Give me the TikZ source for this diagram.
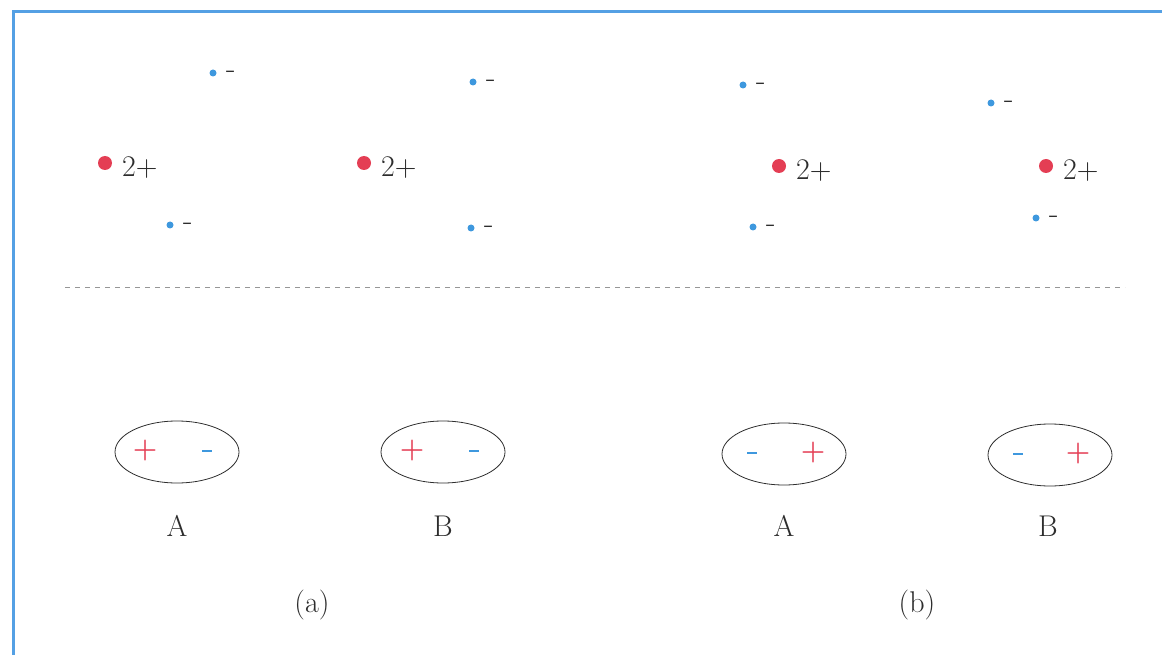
\documentclass[tikz,border=0pt]{standalone}
\usetikzlibrary{shapes.geometric}
\definecolor{ionred}{RGB}{228,62,84}
\definecolor{ionblue}{RGB}{62,152,222}
\definecolor{frameblue}{RGB}{84,160,228}
\definecolor{inkgray}{RGB}{45,45,45}
\definecolor{dashgray}{RGB}{150,150,150}
\tikzset{
  bigion/.style={circle,fill=ionred,inner sep=0pt,minimum size=14pt},
  smallion/.style={circle,fill=ionblue,inner sep=0pt,minimum size=7pt},
  chg/.style={anchor=west,inner sep=0pt,text=inkgray,font=\fontsize{30}{32}\selectfont},
  minus/.style={anchor=west,inner sep=0pt,text=inkgray,font=\fontsize{31}{33}\selectfont},
  molecule/.style={ellipse,draw=inkgray,line width=0.8pt,minimum width=124pt,minimum height=62pt,inner sep=0pt},
  plussign/.style={text=ionred,font=\fontsize{28}{30}\selectfont\bfseries,inner sep=0pt},
  minussign/.style={fill=ionblue,minimum width=10pt,minimum height=2.8pt,inner sep=0pt},
  lbl/.style={text=inkgray,font=\fontsize{30}{32}\selectfont,inner sep=0pt},
}
\begin{document}
\begin{tikzpicture}[x=1pt,y=-1pt]
\useasboundingbox (0,0) rectangle (1162,655);
% frame
\coordinate (f1) at (13,655);
\coordinate (f2) at (13,12);
\coordinate (f3) at (1162,12);
\draw[frameblue,line width=3pt] (f1) -- (f2) -- (f3);
% (a) A ions
\node[bigion] (aA) at (105,163) {};
\node[chg] (aAt) at (122,168) {2+};
\node[smallion] (aA1) at (213,73) {};
\node[minus] (aA1t) at (226,75) {-};
\node[smallion] (aA2) at (170,225) {};
\node[minus] (aA2t) at (183,227) {-};
% (a) B ions
\node[bigion] (aB) at (364,163) {};
\node[chg] (aBt) at (381,168) {2+};
\node[smallion] (aB1) at (473,82) {};
\node[minus] (aB1t) at (486,84) {-};
\node[smallion] (aB2) at (471,228) {};
\node[minus] (aB2t) at (484,230) {-};
% (b) A ions
\node[bigion] (bA) at (779,166) {};
\node[chg] (bAt) at (796,171) {2+};
\node[smallion] (bA1) at (743,85) {};
\node[minus] (bA1t) at (756,87) {-};
\node[smallion] (bA2) at (753,227) {};
\node[minus] (bA2t) at (766,229) {-};
% (b) B ions
\node[bigion] (bB) at (1046,166) {};
\node[chg] (bBt) at (1063,171) {2+};
\node[smallion] (bB1) at (991,103) {};
\node[minus] (bB1t) at (1004,105) {-};
\node[smallion] (bB2) at (1036,218) {};
\node[minus] (bB2t) at (1049,220) {-};
% dashed separator
\coordinate (d1) at (65,287);
\coordinate (d2) at (1125,287);
\draw[dashgray,line width=1pt,dash pattern=on 5pt off 5pt] (d1) -- (d2);
% molecules
\node[molecule] (mAa) at (177,452) {};
\node[plussign] (mAap) at (145,451) {+};
\node[minussign] (mAam) at (207,451) {};
\node[molecule] (mBa) at (443,452) {};
\node[plussign] (mBap) at (412,451) {+};
\node[minussign] (mBam) at (474,451) {};
\node[molecule] (mAb) at (784,454) {};
\node[minussign] (mAbm) at (752,453) {};
\node[plussign] (mAbp) at (813,453) {+};
\node[molecule] (mBb) at (1050,455) {};
\node[minussign] (mBbm) at (1018,454) {};
\node[plussign] (mBbp) at (1078,454) {+};
% labels
\node[lbl] (lAa) at (177,526) {A};
\node[lbl] (lBa) at (443,526) {B};
\node[lbl] (lAb) at (784,526) {A};
\node[lbl] (lBb) at (1048,526) {B};
\node[lbl] (capa) at (312,605) {(a)};
\node[lbl] (capb) at (917,605) {(b)};
\end{tikzpicture}
\end{document}
